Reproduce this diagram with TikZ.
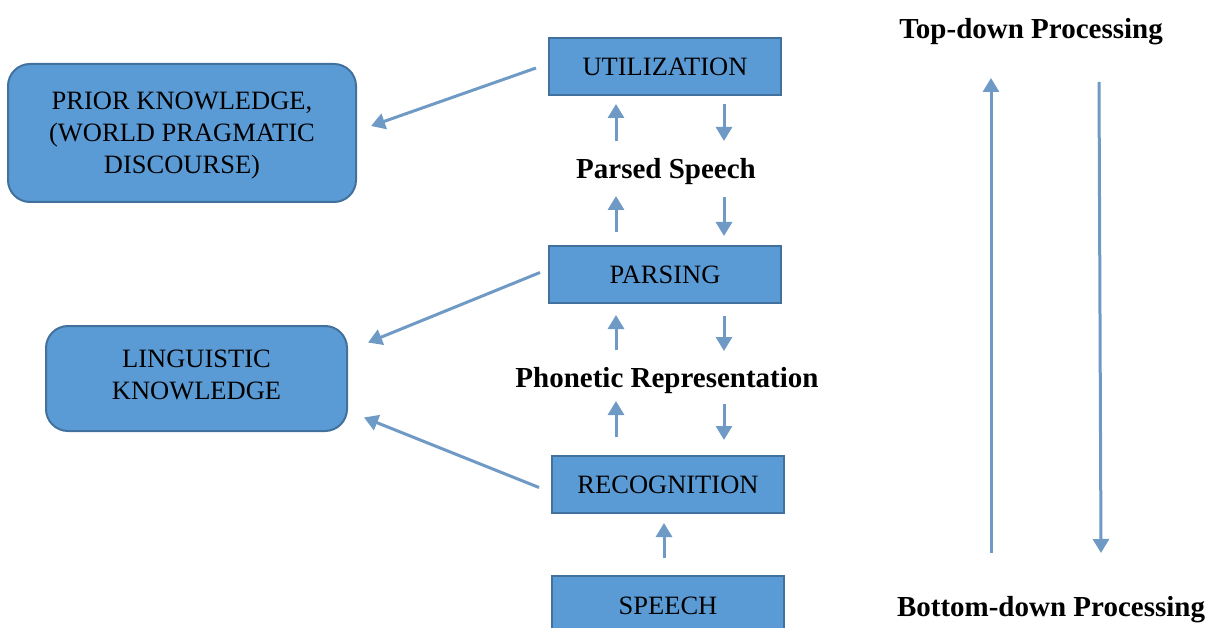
\documentclass[tikz,border=0pt]{standalone}
\usepackage{fontspec}
\setmainfont{Liberation Serif}
\usetikzlibrary{arrows.meta,calc}
\definecolor{boxfill}{HTML}{5B9BD5}
\definecolor{boxline}{HTML}{41719C}
\definecolor{arr}{HTML}{6F9AC6}
\begin{document}
\begin{tikzpicture}[x=1pt,y=-1pt,
 box/.style={draw=boxline,fill=boxfill,line width=2pt,inner sep=0pt,align=center,font=\fontsize{26.5}{32}\selectfont},
 rbox/.style={box,rounded corners=22pt},
 lbl/.style={inner sep=0pt,font=\fontsize{29}{34}\selectfont\bfseries},
 conn/.style={draw=arr,line width=3pt,-{Triangle[width=16pt,length=14pt]}}]
\useasboundingbox (0,0) rectangle (1215,628);
\node[box,minimum width=232pt,minimum height=57pt] (util) at (665,67) {UTILIZATION};
\node[box,minimum width=232pt,minimum height=57pt] (pars) at (665,274.5) {PARSING};
\node[box,minimum width=232pt,minimum height=57pt] (recog) at (668,484.5) {RECOGNITION};
\node[box,minimum width=232pt,minimum height=60pt] (speech) at (668,606) {SPEECH};
\node[rbox,minimum width=348pt,minimum height=138pt,text depth=-3pt] (prior) at (182,133) {PRIOR KNOWLEDGE,\\(WORLD PRAGMATIC\\DISCOURSE)};
\node[rbox,minimum width=301pt,minimum height=105pt,text depth=8pt] (ling) at (196.5,378.5) {LINGUISTIC\\KNOWLEDGE};
\node[lbl] (parsed) at (666,172) {Parsed Speech};
\node[lbl] (phon) at (667,381) {Phonetic Representation};
\node[lbl] (top) at (1031,32) {Top-down Processing};
\node[lbl] (bot) at (1051,610) {Bottom-down Processing};
% side connectors
\draw[conn] ($(util.west)+(-12,1)$) -- ($(prior.east)+(14,-7)$);
\draw[conn] ($(pars.west)+(-8,-2)$) -- ($(ling.east)+(20,-36)$);
\draw[conn] ($(recog.west)+(-12,3)$) -- ($(ling.east)+(16,39)$);
% small vertical arrows
\draw[conn] (616,141) -- (616,104);
\draw[conn] (724,104) -- (724,141);
\draw[conn] (616,232) -- (616,196);
\draw[conn] (724,197) -- (724,236);
\draw[conn] (616,350) -- (616,315);
\draw[conn] (724,316) -- (724,351);
\draw[conn] (616,437) -- (616,401);
\draw[conn] (724,404) -- (724,440);
\draw[conn] ($(speech.north)+(-4,-17)$) -- ($(recog.south)+(-4,9)$);
% big arrows
\coordinate (upS) at (991,553);
\coordinate (upE) at (991,78);
\coordinate (dnS) at (1099,82);
\coordinate (dnE) at (1101,553);
\draw[conn] (upS) -- (upE);
\draw[conn] (dnS) -- (dnE);
\end{tikzpicture}
\end{document}
